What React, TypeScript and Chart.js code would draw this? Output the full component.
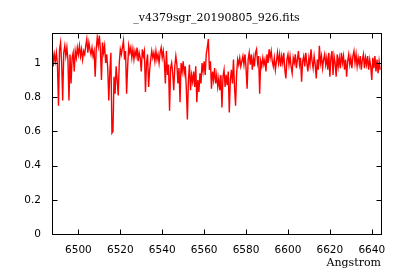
import React, { useEffect, useRef } from "react";
import { Chart, registerables } from "chart.js";

Chart.register(...registerables);

// FITS-style wavelength axis: first sample and sample step (Angstrom)
const CRVAL1 = 6487.5;
const CDELT1 = 0.5;

const TITLE = "_v4379sgr_20190805_926.fits";
const X_LABEL = "Angstrom";
const X_MIN = 6487.4;
const X_MAX = 6644.4;
const X_STEP = 20;
const Y_MIN = 0;
const Y_MAX = 1.174;
const Y_STEP = 0.2;

// normalized flux, one value per sample (rows of 10 Angstrom)
const flux: number[] = [
  1.09, 0.98, 1.05, 1.01, 1.06, 0.99, 0.75, 1.08, 1.12, 1.0, 0.78, 1.06, 1.1, 1.04, 1.09, 1.02, 0.78, 1.05, 0.88, 1.03,
  1.06, 0.95, 1.07, 1.03, 1.09, 1.05, 1.1, 1.04, 1.08, 1.02, 1.07, 1.05, 1.1, 1.14, 1.06, 1.12, 1.08, 1.05, 1.09, 1.04,
  1.07, 0.92, 1.08, 1.15, 1.1, 1.16, 1.08, 0.9, 1.12, 1.06, 1.1, 1.0, 1.05, 0.97, 0.78, 0.95, 1.06, 0.59, 0.6, 0.92,
  0.82, 0.98, 0.9, 0.81, 1.0, 1.08, 1.05, 1.09, 1.13, 1.02, 1.07, 0.82, 0.98, 1.1, 1.06, 1.09, 1.03, 1.08, 1.02, 1.07,
  1.04, 1.09, 1.01, 1.06, 1.03, 0.95, 1.08, 1.04, 1.07, 0.83, 1.0, 1.05, 0.86, 0.96, 1.02, 1.07, 1.03, 1.06, 1.01, 1.07,
  1.02, 1.05, 1.0, 1.06, 1.09, 1.03, 1.07, 1.01, 0.88, 1.07, 0.93, 0.99, 0.72, 0.97, 1.0, 0.94, 0.84, 0.98, 1.04, 0.99,
  0.88, 0.97, 0.77, 1.0, 0.95, 1.01, 0.94, 0.98, 0.85, 0.67, 0.9, 0.99, 0.84, 0.93, 0.89, 0.95, 0.86, 0.98, 0.77, 0.9,
  0.83, 0.94, 0.88, 1.0, 0.95, 1.01, 0.93, 1.05, 1.09, 1.14, 0.96, 1.01, 0.85, 0.95, 0.9, 0.97, 0.88, 0.93, 0.86, 0.91,
  0.84, 0.93, 0.74, 0.92, 0.96, 0.86, 0.93, 0.87, 0.95, 0.71, 0.9, 0.96, 0.88, 1.02, 0.86, 0.75, 0.94, 1.02, 0.99, 1.03,
  0.98, 1.01, 1.04, 0.99, 1.05, 0.97, 0.85, 1.02, 1.06, 0.99, 1.05, 0.96, 1.03, 0.98, 1.06, 1.08, 1.0, 1.04, 0.82, 1.01,
  0.98, 1.03, 0.99, 1.02, 0.95, 1.05, 1.0, 1.08, 1.03, 1.07, 1.01, 0.98, 1.03, 0.96, 1.01, 1.06, 1.0, 1.05, 0.98, 1.04,
  1.0, 1.06, 0.96, 0.91, 1.02, 1.05, 0.99, 1.04, 0.98, 0.94, 1.03, 1.0, 1.05, 0.97, 1.02, 1.07, 0.99, 1.03, 0.89, 1.01,
  1.04, 0.98, 1.06, 1.0, 0.95, 1.03, 0.99, 1.08, 1.01, 0.97, 1.04, 0.99, 0.91, 1.02, 0.96, 1.1, 1.0, 1.04, 0.97, 1.02,
  1.05, 0.99, 1.03, 0.96, 1.06, 0.92, 1.03, 1.07, 0.93, 1.04, 1.0, 0.92, 1.05, 0.98, 1.03, 0.97, 1.06, 1.0, 1.04, 0.96,
  1.02, 0.92, 1.01, 1.05, 0.99, 1.03, 0.97, 1.04, 1.07, 1.0, 1.05, 0.98, 1.03, 0.99, 1.04, 0.96, 1.02, 1.05, 0.97, 1.03,
  0.99, 1.04, 0.96, 1.02, 0.98, 0.9, 1.03, 0.97, 1.04, 0.95, 1.02, 0.94, 1.01, 0.96,
];

const framePlugin = {
  id: "gnuplotFrame",
  afterDraw(chart: any) {
    const { ctx, chartArea, scales } = chart;
    const { left, right, top, bottom } = chartArea;
    const xs = scales.x;
    const ys = scales.y;
    const L = Math.round(left) + 0.5;
    const R = Math.round(right) + 0.5;
    const T = Math.round(top) + 0.5;
    const B = Math.round(bottom) + 0.5;
    const len = 5;
    ctx.save();
    ctx.strokeStyle = "#000";
    ctx.lineWidth = 1;
    ctx.beginPath();
    xs.ticks.forEach((t: any) => {
      const px = Math.round(xs.getPixelForValue(t.value)) + 0.5;
      ctx.moveTo(px, B);
      ctx.lineTo(px, B - len);
      ctx.moveTo(px, T);
      ctx.lineTo(px, T + len);
    });
    ys.ticks.forEach((t: any) => {
      const py = Math.round(ys.getPixelForValue(t.value)) + 0.5;
      ctx.moveTo(L, py);
      ctx.lineTo(L + len, py);
      ctx.moveTo(R, py);
      ctx.lineTo(R - len, py);
    });
    ctx.stroke();
    ctx.strokeRect(L, T, R - L, B - T);
    ctx.restore();
  },
};

export default function App() {
  const ref = useRef<HTMLCanvasElement | null>(null);

  useEffect(() => {
    if (!ref.current) return;
    const points = flux.map((v, i) => ({ x: CRVAL1 + i * CDELT1, y: v }));
    const chart = new Chart(ref.current, {
      type: "line",
      data: {
        datasets: [
          {
            data: points,
            borderColor: "rgb(255,0,0)",
            borderWidth: 1.4,
            pointRadius: 0,
            tension: 0,
            fill: false,
          },
        ],
      },
      options: {
        animation: false,
        responsive: false,
        color: "#000",
        layout: { padding: { left: 0, right: 19, top: 0, bottom: 0 } },
        plugins: {
          legend: { display: false },
          tooltip: { enabled: false },
          title: {
            display: true,
            text: TITLE,
            fullSize: false,
            color: "#000",
            font: { family: "DejaVu Serif", size: 11, weight: "normal" },
            padding: { top: 12, bottom: 8 },
          },
        },
        scales: {
          x: {
            type: "linear",
            min: X_MIN,
            max: X_MAX,
            grid: { display: false, drawTicks: false },
            border: { display: false },
            ticks: {
              stepSize: X_STEP,
              includeBounds: false,
              autoSkip: false,
              maxRotation: 0,
              padding: 10,
              color: "#000",
              font: { family: "DejaVu Sans", size: 10.5 },
              callback: (v: any) => String(v),
            },
            title: {
              display: true,
              text: X_LABEL,
              align: "end",
              color: "#000",
              font: { family: "DejaVu Serif", size: 11 },
              padding: { top: 0, bottom: 10 },
            },
            afterFit: (s: any) => {
              s.height = 46;
            },
          },
          y: {
            type: "linear",
            min: Y_MIN,
            max: Y_MAX,
            grid: { display: false, drawTicks: false },
            border: { display: false },
            ticks: {
              stepSize: Y_STEP,
              includeBounds: false,
              padding: 11,
              color: "#000",
              font: { family: "DejaVu Sans", size: 10.5 },
              callback: (v: any) => String(Math.round(Number(v) * 10) / 10),
            },
            afterFit: (s: any) => {
              s.width = 52;
            },
          },
        },
      },
      plugins: [framePlugin],
    } as any);
    return () => chart.destroy();
  }, []);

  return (
    <div style={{ position: "fixed", left: 0, top: 0, width: 400, height: 280, background: "#fff" }}>
      <canvas ref={ref} width={400} height={280} style={{ display: "block" }} />
    </div>
  );
}
